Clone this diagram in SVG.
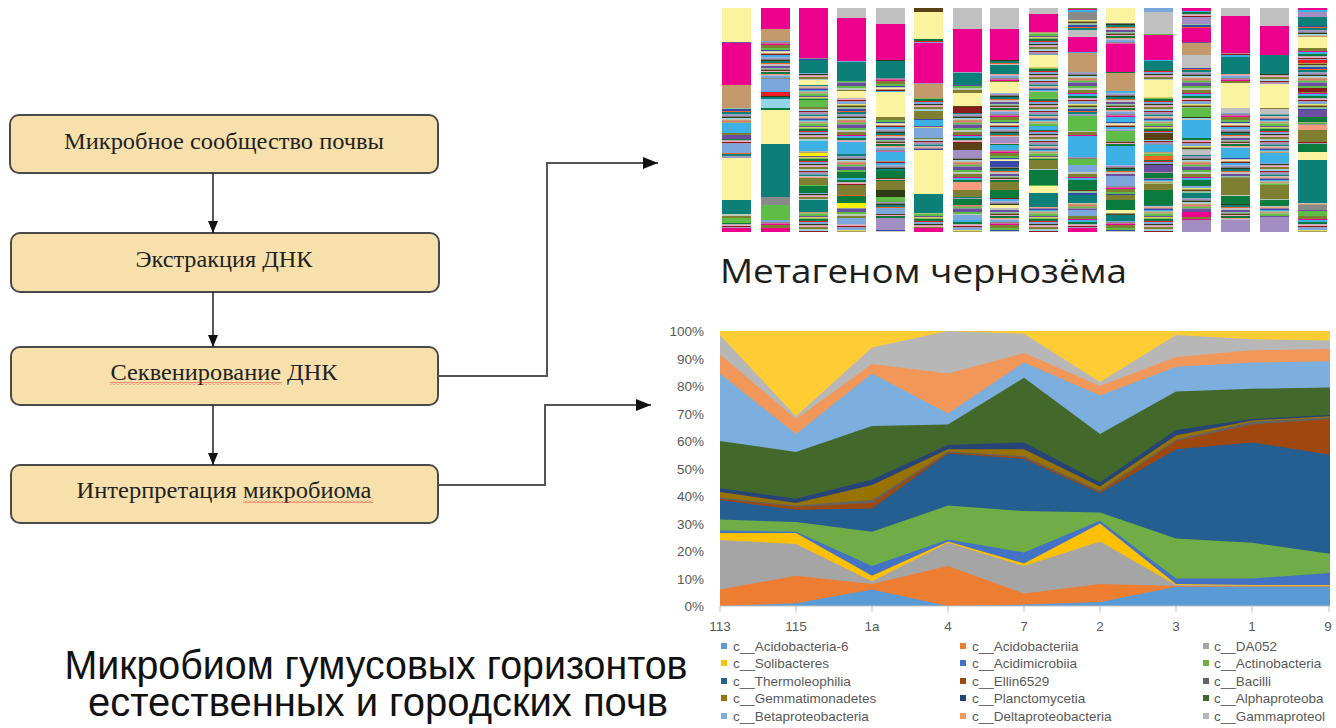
<svg xmlns="http://www.w3.org/2000/svg" width="1336" height="728" viewBox="0 0 1336 728">
<style>
.box{fill:#f7e0ac;stroke:#4a4a4a;stroke-width:2}
.bt{font-family:"Liberation Serif","Times New Roman",serif;font-size:24px;fill:#222;text-anchor:middle}
.fl{fill:none;stroke:#222;stroke-width:1.5}
.cn{fill:none;stroke:#555;stroke-width:2}
.bar rect{width:29px}
pattern rect{width:30px}
.Y{fill:#fbf3a0}.M{fill:#ec008c}.T{fill:#0b7f78}.N{fill:#c49a6c}.C{fill:#3db1e6}.P{fill:#6b4ea0}
.G{fill:#5ebd46}.L{fill:#7ba7dc}.g{fill:#8a8a8a}.s{fill:#c0c0c0}.D{fill:#0a7a3d}.O{fill:#7f7f32}
.R{fill:#ed1c24}.F{fill:#f26522}.c{fill:#93d5e8}.V{fill:#a38ec4}.S{fill:#f59a7c}.B{fill:#3949ab}
.r{fill:#8b1a1a}.W{fill:#5a4115}.K{fill:#2f3b17}.y{fill:#fff200}.k{fill:#f4a6c6}.m{fill:#88c9a0}
.ax{font-family:"Liberation Sans",Arial,sans-serif;font-size:13.5px;fill:#595959}
.lg{font-family:"Liberation Sans",Arial,sans-serif;font-size:13.5px;fill:#595959}
</style>
<defs>
<marker id="a1" markerUnits="userSpaceOnUse" markerWidth="12" markerHeight="10" refX="12" refY="5" orient="auto"><path d="M0,0 L12,5 L0,10 z" fill="#111"/></marker>
<marker id="a2" markerUnits="userSpaceOnUse" markerWidth="15" markerHeight="12" refX="15" refY="6" orient="auto"><path d="M0,0 L15,6 L0,12 z" fill="#111"/></marker>
<pattern id="wave" width="4" height="3" patternUnits="userSpaceOnUse"><path d="M0,2.5 L2,0.5 L4,2.5" fill="none" stroke="#e53935" stroke-width="0.9"/></pattern>
<pattern id="pA" width="30" height="42" patternUnits="userSpaceOnUse">
<rect class="P" y="0" height="2"/><rect class="G" y="2" height="2.5"/><rect class="s" y="4.5" height="1.5"/><rect class="O" y="6" height="3"/><rect class="M" y="9" height="1"/><rect class="C" y="10" height="2"/><rect class="D" y="12" height="2.5"/><rect class="k" y="14.5" height="1.5"/><rect class="r" y="16" height="1.5"/><rect class="L" y="17.5" height="3"/><rect class="y" y="20.5" height="1"/><rect class="W" y="21.5" height="2"/><rect class="m" y="23.5" height="1.5"/><rect class="B" y="25" height="2"/><rect class="F" y="27" height="1"/><rect class="T" y="28" height="2.5"/><rect class="V" y="30.5" height="2"/><rect class="K" y="32.5" height="1.5"/><rect class="c" y="34" height="1.5"/><rect class="N" y="35.5" height="2"/><rect class="R" y="37.5" height="1"/><rect class="G" y="38.5" height="2"/><rect class="P" y="40.5" height="1.5"/>
</pattern>
<pattern id="pB" width="30" height="36" patternUnits="userSpaceOnUse">
<rect class="D" y="0" height="2"/><rect class="S" y="2" height="1.5"/><rect class="L" y="3.5" height="2.5"/><rect class="g" y="6" height="1.5"/><rect class="M" y="7.5" height="1.5"/><rect class="O" y="9" height="3"/><rect class="G" y="12" height="2"/><rect class="B" y="14" height="1.5"/><rect class="Y" y="15.5" height="2"/><rect class="r" y="17.5" height="1.5"/><rect class="C" y="19" height="2.5"/><rect class="V" y="21.5" height="2"/><rect class="K" y="23.5" height="1.5"/><rect class="T" y="25" height="2"/><rect class="F" y="27" height="1"/><rect class="s" y="28" height="2"/><rect class="P" y="30" height="2"/><rect class="m" y="32" height="1.5"/><rect class="W" y="33.5" height="1.5"/><rect class="k" y="35" height="1"/>
</pattern>
<pattern id="pC" width="30" height="30" patternUnits="userSpaceOnUse">
<rect class="C" y="0" height="1.5"/><rect class="N" y="1.5" height="2"/><rect class="G" y="3.5" height="2.5"/><rect class="P" y="6" height="1.5"/><rect class="y" y="7.5" height="1"/><rect class="D" y="8.5" height="2.5"/><rect class="R" y="11" height="1"/><rect class="L" y="12" height="2"/><rect class="K" y="14" height="1.5"/><rect class="k" y="15.5" height="1.5"/><rect class="O" y="17" height="2.5"/><rect class="c" y="19.5" height="1.5"/><rect class="r" y="21" height="1.5"/><rect class="V" y="22.5" height="2"/><rect class="T" y="24.5" height="1.5"/><rect class="s" y="26" height="1.5"/><rect class="F" y="27.5" height="1"/><rect class="B" y="28.5" height="1.5"/>
</pattern>
</defs>
<rect width="1336" height="728" fill="#fff"/>

<g id="node-soil"><rect class="box" x="10" y="115" width="428" height="58" rx="9"/><text class="bt" x="224" y="149" textLength="320" lengthAdjust="spacingAndGlyphs">Микробное сообщество почвы</text></g>
<g id="node-extract"><rect class="box" x="11" y="233" width="428" height="59" rx="9"/><text class="bt" x="224" y="267" textLength="177" lengthAdjust="spacingAndGlyphs">Экстракция ДНК</text></g>
<g id="node-seq"><rect class="box" x="11" y="347" width="427" height="58" rx="9"/><text class="bt" x="224" y="380" textLength="227" lengthAdjust="spacingAndGlyphs">Секвенирование ДНК</text><rect x="110" y="382" width="172" height="3" fill="url(#wave)"/></g>
<g id="node-interp"><rect class="box" x="11" y="465" width="427" height="58" rx="9"/><text class="bt" x="224" y="498" textLength="295" lengthAdjust="spacingAndGlyphs">Интерпретация микробиома</text><rect x="243" y="500" width="130" height="3" fill="url(#wave)"/></g>

<g id="connectors">
<path class="fl" d="M213,173 V233" marker-end="url(#a1)"/>
<path class="fl" d="M213,292 V347" marker-end="url(#a1)"/>
<path class="fl" d="M213,405 V465" marker-end="url(#a1)"/>
<path class="cn" d="M438,376 H547 V163 H658" marker-end="url(#a2)"/>
<path class="cn" d="M438,485 H545 V405 H651" marker-end="url(#a2)"/>
</g>

<g id="metagenome-bars">
<g class="bar" transform="translate(722,0)"><rect y="8" height="224" fill="url(#pA)"/><rect class="Y" y="8" height="34"/><rect class="M" y="43" height="42"/><rect class="N" y="85" height="23"/><rect class="C" y="123" height="10"/><rect class="P" y="135" height="4"/><rect class="L" y="144" height="9"/><rect class="Y" y="158" height="42"/><rect class="T" y="200" height="14"/><rect class="G" y="218" height="5"/><rect class="M" y="228" height="4"/></g>
<g class="bar" transform="translate(761,0)"><rect y="8" height="224" fill="url(#pB)"/><rect class="M" y="8" height="21"/><rect class="N" y="29" height="12"/><rect class="L" y="79" height="12"/><rect class="R" y="92" height="4"/><rect class="c" y="99" height="9"/><rect class="Y" y="110" height="34"/><rect class="T" y="144" height="53"/><rect class="g" y="197" height="8"/><rect class="G" y="205" height="15"/><rect class="M" y="228" height="4"/></g>
<g class="bar" transform="translate(799,0)"><rect y="8" height="224" fill="url(#pC)"/><rect class="M" y="8" height="50"/><rect class="T" y="60" height="13"/><rect class="Y" y="80" height="5"/><rect class="G" y="100" height="7"/><rect class="C" y="141" height="10"/><rect class="y" y="153" height="3"/><rect class="O" y="178" height="7"/><rect class="D" y="186" height="7"/><rect class="T" y="200" height="12"/></g>
<g class="bar" transform="translate(837,0)"><rect y="8" height="224" fill="url(#pA)"/><rect class="s" y="8" height="10"/><rect class="M" y="18" height="43"/><rect class="T" y="62" height="19"/><rect class="Y" y="91" height="7"/><rect class="C" y="142" height="12"/><rect class="D" y="172" height="6"/><rect class="O" y="185" height="10"/><rect class="D" y="196" height="7"/><rect class="y" y="203" height="5"/><rect class="L" y="218" height="6"/></g>
<g class="bar" transform="translate(876,0)"><rect y="8" height="224" fill="url(#pB)"/><rect class="s" y="8" height="16"/><rect class="M" y="24" height="36"/><rect class="T" y="61" height="17"/><rect class="Y" y="92" height="25"/><rect class="C" y="152" height="9"/><rect class="D" y="171" height="7"/><rect class="O" y="181" height="9"/><rect class="K" y="190" height="7"/><rect class="G" y="197" height="5"/><rect class="L" y="208" height="6"/><rect class="V" y="218" height="12"/></g>
<g class="bar" transform="translate(914,0)"><rect y="8" height="224" fill="url(#pC)"/><rect class="W" y="8" height="4"/><rect class="Y" y="12" height="27"/><rect class="M" y="43" height="40"/><rect class="N" y="84" height="14"/><rect class="O" y="111" height="8"/><rect class="C" y="121" height="5"/><rect class="L" y="128" height="10"/><rect class="Y" y="150" height="44"/><rect class="T" y="194" height="19"/><rect class="M" y="228" height="4"/></g>
<g class="bar" transform="translate(953,0)"><rect y="8" height="224" fill="url(#pA)"/><rect class="s" y="8" height="21"/><rect class="M" y="29" height="43"/><rect class="T" y="73" height="12"/><rect class="Y" y="93" height="13"/><rect class="r" y="107" height="6"/><rect class="W" y="143" height="7"/><rect class="V" y="150" height="8"/><rect class="S" y="182" height="8"/><rect class="O" y="190" height="7"/><rect class="D" y="199" height="6"/><rect class="L" y="215" height="5"/></g>
<g class="bar" transform="translate(990,0)"><rect y="8" height="224" fill="url(#pB)"/><rect class="s" y="8" height="21"/><rect class="M" y="29" height="31"/><rect class="T" y="65" height="9"/><rect class="Y" y="82" height="11"/><rect class="V" y="137" height="6"/><rect class="C" y="145" height="5"/><rect class="B" y="161" height="6"/><rect class="O" y="182" height="8"/><rect class="D" y="190" height="8"/><rect class="Y" y="205" height="3"/></g>
<g class="bar" transform="translate(1029,0)"><rect y="8" height="224" fill="url(#pC)"/><rect class="s" y="8" height="6"/><rect class="M" y="14" height="18"/><rect class="Y" y="55" height="12"/><rect class="G" y="92" height="6"/><rect class="C" y="126" height="4"/><rect class="O" y="160" height="8"/><rect class="D" y="170" height="15"/><rect class="Y" y="186" height="7"/><rect class="T" y="193" height="14"/></g>
<g class="bar" transform="translate(1068,0)"><rect y="8" height="224" fill="url(#pA)"/><rect class="g" y="12" height="8"/><rect class="s" y="30" height="7"/><rect class="M" y="37" height="15"/><rect class="N" y="53" height="19"/><rect class="G" y="116" height="15"/><rect class="C" y="138" height="19"/><rect class="G" y="159" height="6"/><rect class="L" y="165" height="7"/><rect class="D" y="181" height="9"/><rect class="T" y="195" height="8"/><rect class="L" y="210" height="6"/><rect class="M" y="228" height="4"/></g>
<g class="bar" transform="translate(1106,0)"><rect y="8" height="224" fill="url(#pB)"/><rect class="Y" y="8" height="15"/><rect class="M" y="44" height="28"/><rect class="N" y="73" height="18"/><rect class="C" y="117" height="5"/><rect class="G" y="131" height="10"/><rect class="C" y="146" height="17"/><rect class="L" y="176" height="9"/><rect class="O" y="195" height="5"/><rect class="D" y="200" height="10"/><rect class="Y" y="210" height="3"/><rect class="T" y="215" height="6"/></g>
<g class="bar" transform="translate(1144,0)"><rect y="8" height="224" fill="url(#pC)"/><rect class="L" y="8" height="4"/><rect class="s" y="12" height="22"/><rect class="M" y="35" height="25"/><rect class="T" y="61" height="9"/><rect class="Y" y="80" height="17"/><rect class="W" y="133" height="7"/><rect class="C" y="145" height="7"/><rect class="F" y="156" height="4"/><rect class="P" y="165" height="7"/><rect class="D" y="173" height="5"/><rect class="O" y="184" height="6"/><rect class="D" y="191" height="14"/></g>
<g class="bar" transform="translate(1182,0)"><rect y="8" height="224" fill="url(#pA)"/><rect class="M" y="8" height="3"/><rect class="V" y="17" height="7"/><rect class="M" y="28" height="14"/><rect class="N" y="43" height="12"/><rect class="s" y="55" height="13"/><rect class="G" y="108" height="9"/><rect class="C" y="120" height="17"/><rect class="s" y="150" height="5"/><rect class="D" y="180" height="6"/><rect class="T" y="193" height="5"/><rect class="M" y="212" height="5"/><rect class="V" y="220" height="12"/></g>
<g class="bar" transform="translate(1221,0)"><rect y="8" height="224" fill="url(#pB)"/><rect class="s" y="8" height="8"/><rect class="M" y="16" height="37"/><rect class="T" y="57" height="17"/><rect class="Y" y="83" height="25"/><rect class="s" y="108" height="5"/><rect class="C" y="148" height="10"/><rect class="O" y="178" height="17"/><rect class="D" y="196" height="8"/><rect class="V" y="220" height="12"/></g>
<g class="bar" transform="translate(1260,0)"><rect y="8" height="224" fill="url(#pC)"/><rect class="s" y="8" height="18"/><rect class="M" y="26" height="29"/><rect class="T" y="56" height="18"/><rect class="Y" y="84" height="24"/><rect class="s" y="109" height="5"/><rect class="C" y="153" height="10"/><rect class="O" y="185" height="12"/><rect class="D" y="200" height="6"/><rect class="V" y="217" height="15"/></g>
<g class="bar" transform="translate(1298,0)"><rect y="8" height="224" fill="url(#pA)"/><rect class="M" y="8" height="2"/><rect class="V" y="12" height="5"/><rect class="T" y="17" height="9"/><rect class="Y" y="37" height="11"/><rect class="R" y="60" height="3"/><rect class="r" y="88" height="4"/><rect class="P" y="110" height="7"/><rect class="D" y="117" height="5"/><rect class="S" y="125" height="5"/><rect class="O" y="130" height="12"/><rect class="D" y="144" height="8"/><rect class="Y" y="152" height="8"/><rect class="T" y="160" height="43"/><rect class="g" y="205" height="5"/><rect class="G" y="211" height="5"/></g>
</g>

<text id="title-metagenome" x="720" y="283" font-family="'Open Sans','Liberation Sans',sans-serif" font-size="32" fill="#1e1e1e" textLength="407" lengthAdjust="spacingAndGlyphs">Метагеном чернозёма</text>

<g id="area-chart">
<rect x="720" y="331" width="610" height="275" fill="#FFCD33"/>
<polygon fill="#B7B7B7" points="720,335.1 796,416.25 872,347.5 948,331 1024,333.75 1100,381.9 1176,335.1 1252,339.25 1330,340.6 1330,606 720,606"/>
<polygon fill="#F1975A" points="720,354.4 796,419 872,364 948,373.6 1024,353 1100,386 1176,357.1 1252,350.25 1330,348.9 1330,606 720,606"/>
<polygon fill="#7CAFDD" points="720,373.6 796,434.1 872,373.6 948,413.5 1024,362.6 1100,395.6 1176,366.75 1252,362.6 1330,361.25 1330,606 720,606"/>
<polygon fill="#43682B" points="720,441 796,452 872,425.9 948,424.5 1024,377.75 1100,434.1 1176,391.5 1252,388.75 1330,387.4 1330,606 720,606"/>
<polygon fill="#264478" points="720,488.3 796,498.75 872,479.5 948,445.1 1024,442.4 1100,482.25 1176,430 1252,419 1330,414.9 1330,606 720,606"/>
<polygon fill="#997300" points="720,491.9 796,502.9 872,485 948,449.25 1024,449.25 1100,486.4 1176,435.5 1252,420.4 1330,416.25 1330,606 720,606"/>
<polygon fill="#636363" points="720,497.4 796,505.6 872,500.1 948,451.45 1024,456.1 1100,490.5 1176,439.6 1252,421.75 1330,417.6 1330,606 720,606"/>
<polygon fill="#9E480E" points="720,498.75 796,507 872,502.9 948,452.55 1024,457.5 1100,491.9 1176,441 1252,424.5 1330,419 1330,606 720,606"/>
<polygon fill="#255E91" points="720,500.1 796,509.75 872,508.4 948,453.4 1024,458.9 1100,493.25 1176,449.25 1252,442.4 1330,454.75 1330,606 720,606"/>
<polygon fill="#70AD47" points="720,519.4 796,522.1 872,531.75 948,505.6 1024,511.1 1100,512.5 1176,538.6 1252,542.75 1330,553.75 1330,606 720,606"/>
<polygon fill="#4472C4" points="720,530.4 796,531.75 872,566.1 948,539.45 1024,552.4 1100,520.75 1176,578.5 1252,578.5 1330,573 1330,606 720,606"/>
<polygon fill="#FFC000" points="720,533.1 796,533.1 872,575.75 948,541.4 1024,563.4 1100,523.5 1176,584 1252,585.1 1330,585.1 1330,606 720,606"/>
<polygon fill="#A5A5A5" points="720,540 796,544.1 872,581.25 948,542.75 1024,566.1 1100,541.4 1176,585.1 1252,585.65 1330,585.65 1330,606 720,606"/>
<polygon fill="#ED7D31" points="720,589.5 796,575.75 872,584 948,566.1 1024,593.6 1100,584 1176,585.9 1252,586.2 1330,586.2 1330,606 720,606"/>
<polygon fill="#5B9BD5" points="720,606 796,603.3 872,589.5 948,606 1024,604.6 1100,601.9 1176,586.75 1252,586.75 1330,586.75 1330,606 720,606"/>
<path d="M720,606 H1330 M720,606 v6 M796,606 v6 M872,606 v6 M948,606 v6 M1024,606 v6 M1100,606 v6 M1176,606 v6 M1252,606 v6 M1329,606 v6" stroke="#bfbfbf" stroke-width="1" fill="none"/>
<g class="ax" text-anchor="end">
<text x="704" y="336">100%</text><text x="704" y="363.5">90%</text><text x="704" y="391">80%</text><text x="704" y="418.5">70%</text><text x="704" y="446">60%</text><text x="704" y="473.5">50%</text><text x="704" y="501">40%</text><text x="704" y="528.5">30%</text><text x="704" y="556">20%</text><text x="704" y="583.5">10%</text><text x="704" y="611">0%</text>
</g>
<g class="ax" text-anchor="middle">
<text x="720" y="631">113</text><text x="796" y="631">115</text><text x="872" y="631">1a</text><text x="948" y="631">4</text><text x="1024" y="631">7</text><text x="1100" y="631">2</text><text x="1176" y="631">3</text><text x="1252" y="631">1</text><text x="1328" y="631">9</text>
</g>
</g>

<g id="legend">
<rect x="721" y="643" width="6" height="6" fill="#5B9BD5"/><text class="lg" x="733" y="650.5">c__Acidobacteria-6</text>
<rect x="960" y="643" width="6" height="6" fill="#ED7D31"/><text class="lg" x="972" y="650.5">c__Acidobacteriia</text>
<rect x="1203" y="643" width="6" height="6" fill="#A5A5A5"/><text class="lg" x="1214" y="650.5">c__DA052</text>
<rect x="721" y="660" width="6" height="6" fill="#FFC000"/><text class="lg" x="733" y="667.5">c__Solibacteres</text>
<rect x="960" y="660" width="6" height="6" fill="#4472C4"/><text class="lg" x="972" y="667.5">c__Acidimicrobiia</text>
<rect x="1203" y="660" width="6" height="6" fill="#70AD47"/><text class="lg" x="1214" y="667.5">c__Actinobacteria</text>
<rect x="721" y="678" width="6" height="6" fill="#255E91"/><text class="lg" x="733" y="685.5">c__Thermoleophilia</text>
<rect x="960" y="678" width="6" height="6" fill="#9E480E"/><text class="lg" x="972" y="685.5">c__Ellin6529</text>
<rect x="1203" y="678" width="6" height="6" fill="#636363"/><text class="lg" x="1214" y="685.5">c__Bacilli</text>
<rect x="721" y="695" width="6" height="6" fill="#997300"/><text class="lg" x="733" y="702.5">c__Gemmatimonadetes</text>
<rect x="960" y="695" width="6" height="6" fill="#264478"/><text class="lg" x="972" y="702.5">c__Planctomycetia</text>
<rect x="1203" y="695" width="6" height="6" fill="#43682B"/><text class="lg" x="1214" y="702.5">c__Alphaproteoba</text>
<rect x="721" y="713" width="6" height="6" fill="#7CAFDD"/><text class="lg" x="733" y="720.5">c__Betaproteobacteria</text>
<rect x="960" y="713" width="6" height="6" fill="#F1975A"/><text class="lg" x="972" y="720.5">c__Deltaproteobacteria</text>
<rect x="1203" y="713" width="6" height="6" fill="#B7B7B7"/><text class="lg" x="1214" y="720.5">c__Gammaproteol</text>
</g>

<g id="title-microbiome" font-family="'Liberation Sans',Arial,sans-serif" fill="#111" text-anchor="middle">
<text x="376" y="679" font-size="41" textLength="623" lengthAdjust="spacingAndGlyphs">Микробиом гумусовых горизонтов</text>
<text x="378" y="716" font-size="40" textLength="580" lengthAdjust="spacingAndGlyphs">естественных и городских почв</text>
</g>
</svg>
